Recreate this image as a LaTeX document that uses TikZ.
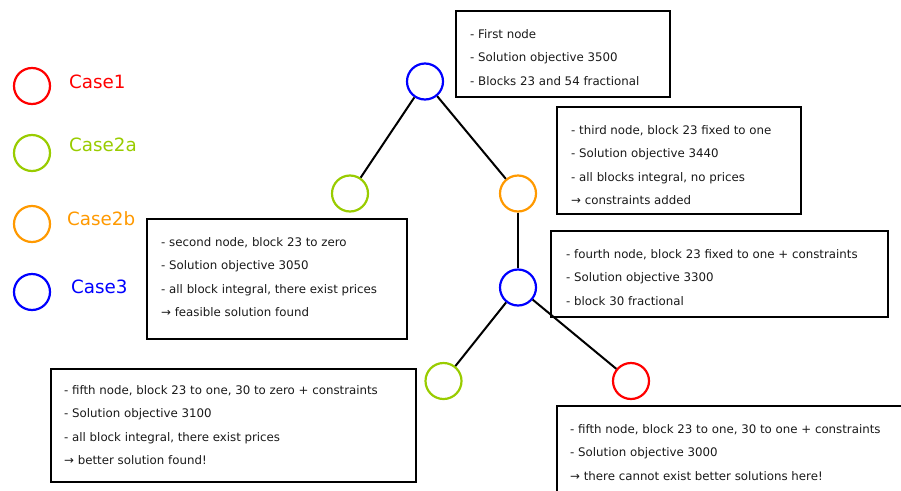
\documentclass[tikz,border=0pt]{standalone}
\usepackage{fontspec}
\setmainfont{DejaVu Sans}
\definecolor{caseone}{HTML}{FF0000}
\definecolor{casetwoa}{HTML}{99CC00}
\definecolor{casetwob}{HTML}{FF9900}
\definecolor{casethree}{HTML}{0000FF}
\tikzset{
  casenode/.style={circle,draw,line width=2.2pt,minimum size=36pt,inner sep=0pt},
  caselabel/.style={anchor=west,inner sep=0pt,font=\fontsize{18.3}{20}\selectfont},
  infobox/.style={draw,line width=2pt,anchor=north west,inner sep=0pt},
  infotext/.style={anchor=north west,inner sep=0pt,align=left,text=black!90,font=\fontsize{11.8}{23.5}\selectfont},
}
\begin{document}
\begin{tikzpicture}[x=1pt,y=-1pt]
      \useasboundingbox (0,0) rectangle (901,490);
      \clip (0,0) rectangle (901,490);
      % legend
      \draw
        (32,86) node[casenode,caseone] (c1){}
        (32,153) node[casenode,casetwoa] (c2){}
        (32,224) node[casenode,casetwob] (c3){}
        (32,292) node[casenode,casethree] (c4){};
      \draw
        (69,82) node[caselabel,caseone] (l1){Case1}
        (69,145) node[caselabel,casetwoa] (l2){Case2a}
        (67,219) node[caselabel,casetwob] (l3){Case2b}
        (71,287) node[caselabel,casethree] (l4){Case3};
      % tree
      \draw
        (425,81.5) node[casenode,casethree] (1){}
        (350,193.5) node[casenode,casetwoa] (2){}
        (518,193.5) node[casenode,casetwob] (3){}
        (518,287.5) node[casenode,casethree] (4){}
        (443.5,381) node[casenode,casetwoa] (5){}
        (631,381) node[casenode,caseone] (6){};
      \begin{scope}[-,line width=2pt]
        \draw (1) to (2);
        \draw (1) to (3);
        \draw (3) to (4);
        \draw (4) to (5);
        \draw (4) to (6);
      \end{scope}
      % boxes
      \node[infobox,minimum width=214,minimum height=86] (b1) at (455,10) {};
      \node[infobox,minimum width=260,minimum height=120] (b2) at (146,218) {};
      \node[infobox,minimum width=244,minimum height=107] (b3) at (556,106) {};
      \node[infobox,minimum width=337,minimum height=86] (b4) at (550,230) {};
      \node[infobox,minimum width=365,minimum height=113] (b5) at (50,368) {};
      \node[infobox,minimum width=360,minimum height=100] (b6) at (556,405) {};
      \node[infotext] (t1) at ([shift={(15,19.3)}]b1.north west)
        {- First node\\- Solution objective 3500\\- Blocks 23 and 54 fractional};
      \node[infotext] (t2) at ([shift={(15,19.3)}]b2.north west)
        {- second node, block 23 to zero\\- Solution objective 3050\\- all block integral, there exist prices\\→ feasible solution found};
      \node[infotext] (t3) at ([shift={(15,19.3)}]b3.north west)
        {- third node, block 23 fixed to one\\- Solution objective 3440\\- all blocks integral, no prices\\→ constraints added};
      \node[infotext] (t4) at ([shift={(16,19.3)}]b4.north west)
        {- fourth node, block 23 fixed to one + constraints\\- Solution objective 3300\\- block 30 fractional};
      \node[infotext] (t5) at ([shift={(14,17.3)}]b5.north west)
        {- fifth node, block 23 to one, 30 to zero + constraints\\- Solution objective 3100\\- all block integral, there exist prices\\→ better solution found!};
      \node[infotext] (t6) at ([shift={(14,19.3)}]b6.north west)
        {- fifth node, block 23 to one, 30 to one + constraints\\- Solution objective 3000\\→ there cannot exist better solutions here!};
    \end{tikzpicture}
\end{document}
